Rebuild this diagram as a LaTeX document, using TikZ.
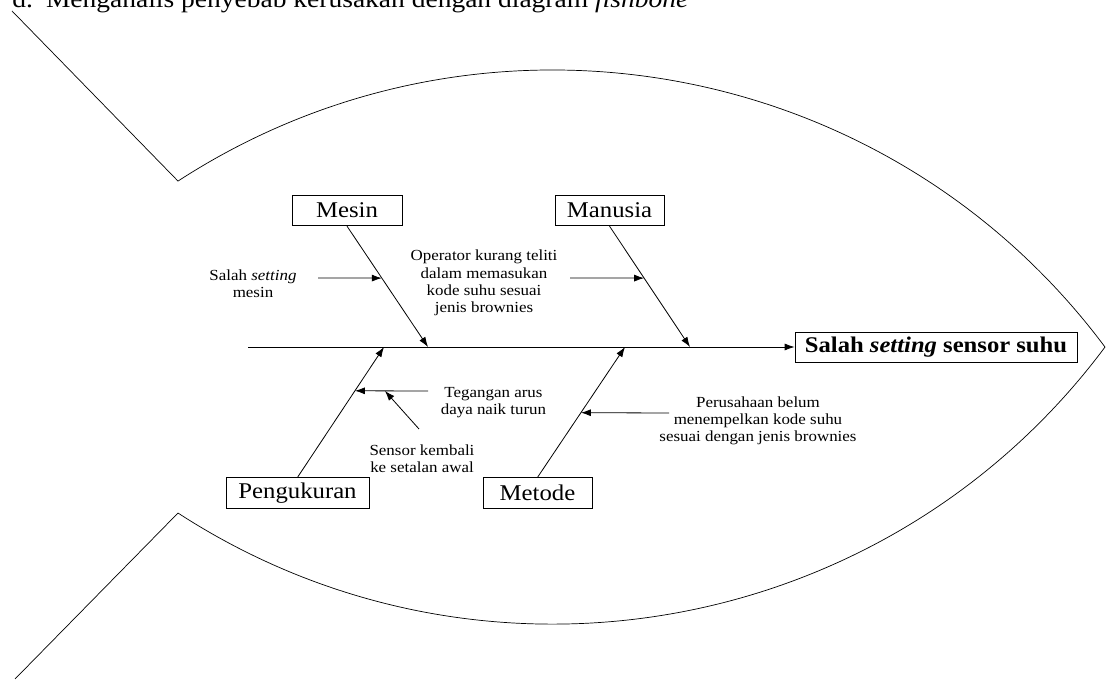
\documentclass[tikz,border=0pt]{standalone}
\usepackage{fontspec}
\setmainfont[FakeStretch=1.1]{Liberation Serif}
\usetikzlibrary{arrows.meta,calc}
\begin{document}
\begin{tikzpicture}[x=1pt,y=1pt,
  line width=0.8pt,
  cat/.style={draw, line width=0.8pt, inner sep=0pt, minimum height=30.5pt, font=\fontsize{22.5}{26}\selectfont},
  lbl/.style={align=center, inner sep=0pt, font=\fontsize{15.4}{17.2}\selectfont},
  arr/.style={-{Latex[length=10pt,width=7pt]}},
]
\useasboundingbox (0,0) rectangle (1109,680);
% title
\node[anchor=base west, inner sep=0pt, font=\fontsize{25}{30}\selectfont] (title) at (12,672)
  {d.\hspace{13pt}Menganalis penyebab kerusakan dengan diagram \textit{fishbone}};
% fish outline
\coordinate (uc) at (553,-78.5);
\coordinate (lc) at (553,744.5);
\coordinate (tt) at (12,669);
\coordinate (tb) at (15,1);
\draw[line width=0.7pt] (tt) -- ($(uc)+(123:688.5)$) arc[start angle=123,end angle=36.7,radius=688.5] coordinate (tip);
\draw[line width=0.7pt] (tip) arc[start angle=-36.7,end angle=-123,radius=688.5] -- (tb);
% effect
\node[draw, inner sep=0pt, minimum width=282pt, minimum height=30pt,
  font=\bfseries\fontsize{22.4}{26}\selectfont] (effect) at (936,333) {Salah \textit{setting} sensor suhu};
% spine
\coordinate (sp) at (248,333);
\draw[arr] (sp) -- (effect.west);
% categories
\node[cat, minimum width=110pt] (mesin) at (347,469.5) {Mesin};
\node[cat, minimum width=109pt] (manusia) at (609.5,469.5) {Manusia};
\node[cat, minimum width=143pt] (peng) at (297.5,187) {Pengukuran};
\node[cat, minimum width=109pt] (metode) at (537.5,187) {Metode};
\coordinate (tm) at (428,333);
\coordinate (tma) at (690,333);
\coordinate (tp) at (384,333);
\coordinate (tme) at (625,333);
\draw[arr] (mesin.south) -- (tm);
\draw[arr] (manusia.south) -- (tma);
\draw[arr] (peng.north) -- (tp);
\draw[arr] (metode.north) -- (tme);
% causes text
\node[lbl] (t1) at (253,396.5) {Salah \textit{setting}\\mesin};
\node[lbl] (t2) at (484,397) {Operator kurang teliti\\dalam memasukan\\kode suhu sesuai\\jenis brownies};
\node[lbl] (t3) at (493.5,277.5) {Tegangan arus\\daya naik turun};
\node[lbl] (t4) at (422,221) {Sensor kembali\\ke setalan awal};
\node[lbl] (t5) at (758,259) {Perusahaan belum\\menempelkan kode suhu\\sesuai dengan jenis brownies};
% cause arrows
\coordinate (a1) at ($(mesin.south)!0.43!(tm)$);
\coordinate (s1) at (318,402);
\draw[arr] (s1) -- (a1);
\coordinate (a2) at ($(manusia.south)!0.43!(tma)$);
\coordinate (s2) at (570,402);
\draw[arr] (s2) -- (a2);
\coordinate (a3) at ($(peng.north)!0.664!(tp)$);
\coordinate (s3) at (428,289);
\draw[arr] (s3) -- (a3);
\coordinate (a4) at ($(s3)!0.59!(a3)$);
\coordinate (s4) at (419,251);
\draw[arr] (s4) -- (a4);
\coordinate (a5) at ($(metode.north)!0.496!(tme)$);
\coordinate (s5) at (669,267);
\draw[arr] (s5) -- (a5);
\end{tikzpicture}
\end{document}
